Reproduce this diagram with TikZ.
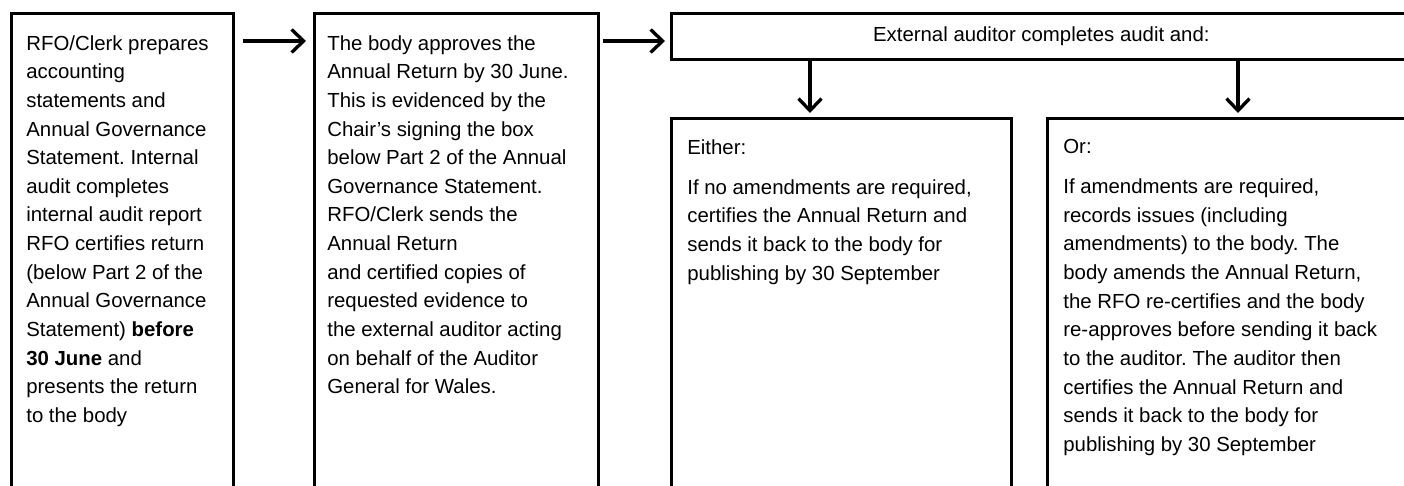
\documentclass[tikz,border=0pt]{standalone}
\usepackage{fontspec}
\setmainfont{Liberation Sans}
\usetikzlibrary{arrows.meta}
\frenchspacing

\tikzset{>={Straight Barb[length=2.4mm,width=4.6mm]},
  every node/.style={font=\fontsize{11.6}{16.3}\selectfont},
  box/.style={draw,line width=1.6pt,inner sep=0pt,anchor=north west},
  txt/.style={align=left,anchor=north west,inner sep=0pt},
  flow/.style={->,line width=1.9pt}}

\begin{document}
\begin{tikzpicture}[x=0.02cm,y=-0.02cm]
    \path[use as bounding box,clip] (0,0) rectangle (1404,486);
    \node[box,minimum width=4.44cm,minimum height=10.2cm] (prep) at (10,12) {};
    \node[box,minimum width=5.68cm,minimum height=10.2cm] (approve) at (313,12) {};
    \node[box,minimum width=14.8cm,minimum height=0.92cm] (extaud) at (670,12) {External auditor completes audit and:};
    \node[box,minimum width=6.8cm,minimum height=8cm] (either) at (670,117) {};
    \node[box,minimum width=8cm,minimum height=8cm] (orbox) at (1046,117) {};

    \node[txt] (preptext) at ([shift={(16,23)}]prep.north west) {RFO/Clerk prepares\\
      accounting\\
      statements and\\
      Annual Governance\\
      Statement. Internal\\
      audit completes\\
      internal audit report\\
      RFO certifies return\\
      (below Part 2 of the\\
      Annual Governance\\
      Statement) \textbf{before}\\
      \textbf{30 June} and\\
      presents the return\\
      to the body};
    \node[txt] (approvetext) at ([shift={(14,23)}]approve.north west) {The body approves the\\
      Annual Return by 30 June.\\
      This is evidenced by the\\
      Chair's signing the box\\
      below Part 2 of the Annual\\
      Governance Statement.\\
      RFO/Clerk sends the\\
      Annual Return\\
      and certified copies of\\
      requested evidence to\\
      the external auditor acting\\
      on behalf of the Auditor\\
      General for Wales.};
    \node[txt] (eithertext) at ([shift={(17,22)}]either.north west) {Either:\\[6.5pt]
      If no amendments are required,\\
      certifies the Annual Return and\\
      sends it back to the body for\\
      publishing by 30 September};
    \node[txt] (ortext) at ([shift={(17,22)}]orbox.north west) {Or:\\[6.5pt]
      If amendments are required,\\
      records issues (including\\
      amendments) to the body. The\\
      body amends the Annual Return,\\
      the RFO re-certifies and the body\\
      re-approves before sending it back\\
      to the auditor. The auditor then\\
      certifies the Annual Return and\\
      sends it back to the body for\\
      publishing by 30 September};

    \draw[flow,shorten <=0.16cm,shorten >=0.14cm] ([yshift=-0.58cm]prep.north east) -- ([yshift=-0.58cm]approve.north west);
    \draw[flow,shorten <=0.06cm,shorten >=0.1cm] ([yshift=-0.58cm]approve.north east) -- ([yshift=-0.58cm]extaud.north west);
    \foreach \b/\x in {either/810,orbox/1238}{
        \draw[flow,shorten >=0.08cm] (extaud.south -| \x,0) -- (\b.north -| \x,0);
    }
\end{tikzpicture}
\end{document}
